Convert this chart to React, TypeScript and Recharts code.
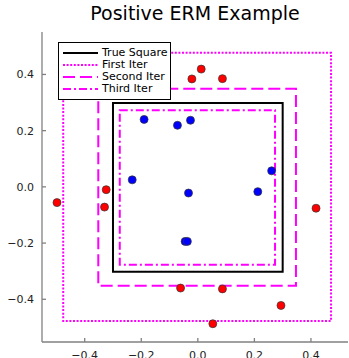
import React from "react";
import { ScatterChart, Scatter, XAxis, YAxis, ReferenceArea } from "recharts";

// points outside the true square (negative)
const redX = [0.012, -0.021, 0.087, -0.498, -0.324, -0.33, 0.418, -0.061, 0.087, 0.294, 0.053];
const redY = [0.419, 0.384, 0.385, -0.056, -0.01, -0.072, -0.076, -0.36, -0.363, -0.422, -0.487];

// points inside the true square (positive)
const blueX = [-0.19, -0.072, -0.026, -0.232, -0.033, 0.212, 0.261, -0.045, -0.037];
const blueY = [0.24, 0.219, 0.237, 0.025, -0.022, -0.017, 0.057, -0.194, -0.194];

// rectangles: true square + hypothesis per iteration
const boxNames = ["True Square", "First Iter", "Second Iter", "Third Iter"];
const boxX1 = [-0.3, -0.476, -0.352, -0.276];
const boxX2 = [0.3, 0.471, 0.347, 0.273];
const boxY1 = [-0.302, -0.477, -0.352, -0.277];
const boxY2 = [0.298, 0.477, 0.349, 0.273];
const boxColors = ["#000000", "#ff00ff", "#ff00ff", "#ff00ff"];
const boxDash = ["", "2 1.6", "12 5", "8 3 2 3"];

const yTicks = [-0.4, -0.2, 0, 0.2, 0.4];
const xTicks = [-0.4, -0.2, 0, 0.2, 0.4];

const redData = redX.map((x, i) => ({ x, y: redY[i] }));
const blueData = blueX.map((x, i) => ({ x, y: blueY[i] }));

const fmt = (v: number) => (v < -1e-9 ? "\u2212" : "") + Math.abs(v).toFixed(1);

const dot = (fill: string) => (props: any) =>
  <circle cx={props.cx} cy={props.cy} r={4} fill={fill} stroke="#333" strokeWidth={0.7} />;

const FONT = "'DejaVu Sans', sans-serif";
const AXIS = "#808080";

const App: React.FC = () => {
  return (
    <div style={{ position: "absolute", left: 0, top: 0, width: 349, height: 358, background: "#fff", fontFamily: FONT }}>
      <div style={{ position: "absolute", left: 42, width: 306, top: 2, textAlign: "center", fontSize: 19, color: "#000" }}>
        Positive ERM Example
      </div>

      <ScatterChart width={349} height={358} margin={{ top: 32, right: 1, bottom: 0, left: 0 }}>
        <XAxis
          type="number"
          dataKey="x"
          domain={[-0.551, 0.531]}
          ticks={xTicks}
          tickFormatter={fmt}
          allowDataOverflow
          height={16}
          stroke={AXIS}
          strokeWidth={1.3}
          tickSize={-4}
          tickMargin={13}
          tick={{ fill: "#222", fontSize: 11, fontFamily: FONT }}
        />
        <YAxis
          type="number"
          dataKey="y"
          domain={[-0.552, 0.551]}
          ticks={yTicks}
          tickFormatter={fmt}
          allowDataOverflow
          width={42}
          stroke={AXIS}
          strokeWidth={1.3}
          tickSize={-4}
          tickMargin={12}
          tick={{ fill: "#222", fontSize: 11, fontFamily: FONT }}
        />
        {boxNames.map((n, i) => (
          <ReferenceArea
            key={n}
            x1={boxX1[i]}
            x2={boxX2[i]}
            y1={boxY1[i]}
            y2={boxY2[i]}
            fill="none"
            stroke={boxColors[i]}
            strokeWidth={2}
            strokeDasharray={boxDash[i] || undefined}
          />
        ))}
        <Scatter data={redData} fill="#ff0000" shape={dot("#ff0000")} isAnimationActive={false} />
        <Scatter data={blueData} fill="#0000ff" shape={dot("#0000ff")} isAnimationActive={false} />
      </ScatterChart>

      <div
        style={{
          position: "absolute",
          left: 58,
          top: 42,
          width: 113,
          height: 58,
          border: "1px solid #000",
          background: "#fff",
          boxSizing: "border-box",
          fontSize: 11,
          color: "#000",
        }}
      >
        {boxNames.map((n, i) => (
          <div key={n} style={{ position: "absolute", left: 4, top: 4 + i * 12, height: 12, display: "flex", alignItems: "center" }}>
            <svg width={35} height={12}>
              <line x1={0} x2={35} y1={6} y2={6} stroke={boxColors[i]} strokeWidth={2} strokeDasharray={boxDash[i] || undefined} />
            </svg>
            <span style={{ marginLeft: 4, lineHeight: "12px", whiteSpace: "nowrap" }}>{n}</span>
          </div>
        ))}
      </div>
    </div>
  );
};

export default App;
